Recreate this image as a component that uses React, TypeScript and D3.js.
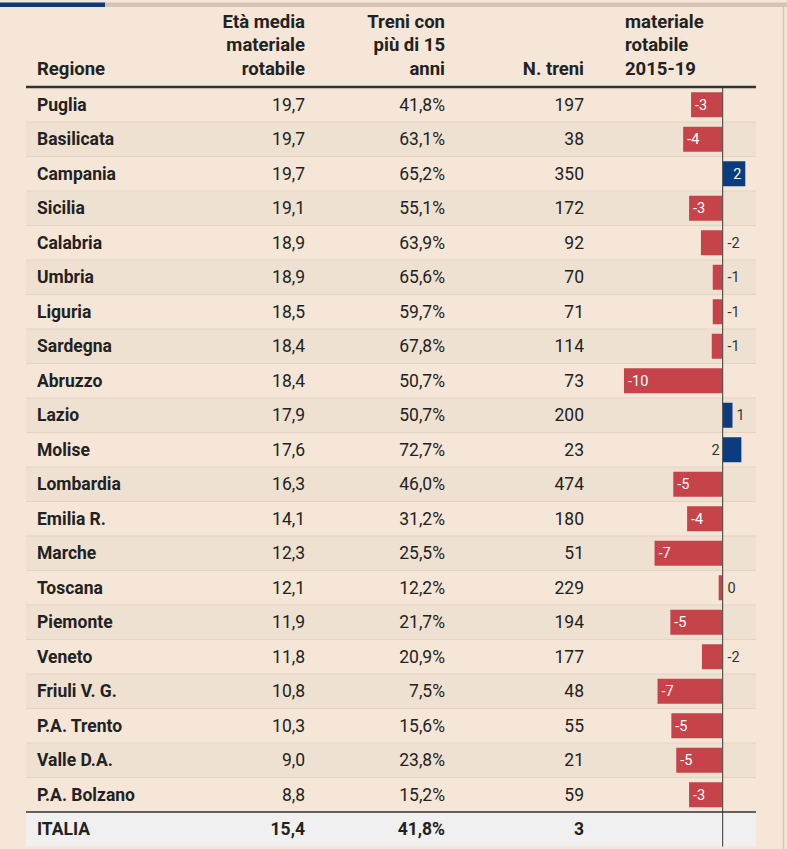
import React from "react";
import * as d3 from "d3";

const regions = ["Puglia","Basilicata","Campania","Sicilia","Calabria","Umbria","Liguria","Sardegna","Abruzzo","Lazio","Molise","Lombardia","Emilia R.","Marche","Toscana","Piemonte","Veneto","Friuli V. G.","P.A. Trento","Valle D.A.","P.A. Bolzano"];
const etaMedia = ["19,7","19,7","19,7","19,1","18,9","18,9","18,5","18,4","18,4","17,9","17,6","16,3","14,1","12,3","12,1","11,9","11,8","10,8","10,3","9,0","8,8"];
const treniOltre15 = ["41,8%","63,1%","65,2%","55,1%","63,9%","65,6%","59,7%","67,8%","50,7%","50,7%","72,7%","46,0%","31,2%","25,5%","12,2%","21,7%","20,9%","7,5%","15,6%","23,8%","15,2%"];
const nTreni = [197,38,350,172,92,70,71,114,73,200,23,474,180,51,229,194,177,48,55,21,59];
const variazione = [-3.2,-4.0,2.3,-3.4,-2.2,-1.0,-1.0,-1.1,-10,1.0,1.9,-5.0,-3.6,-6.9,-0.4,-5.3,-2.1,-6.6,-5.2,-4.7,-3.4];
const totale = { regione: "ITALIA", eta: "15,4", treni: "41,8%", n: 3 };
const headers = [
  ["Regione"],
  ["Età media", "materiale", "rotabile"],
  ["Treni con", "più di 15", "anni"],
  ["N. treni"],
  ["materiale", "rotabile", "2015-19"],
];
const labelLeftOfZero = ["Molise"];

const W = 787, H = 849;
const BG = "#f5e6d7";
const ALT = "#efe1d2";
const TXT = "#222";
const RED = "#c6434a";
const BLUE = "#0b3c7e";
const FONT = "Roboto, 'Noto Sans', sans-serif";
const HEAD_FS = 18.5;
const BODY_FS = 17.5;
const BAR_FS = 14.5;

export default function App() {
  const tableL = 26, tableR = 756;
  const top = 87.5, rowH = 34.5;
  const colRegione = 37, colEta = 305, colTreni = 445, colN = 584, colMat = 625;
  const x = d3.scaleLinear().domain([-10, 3]).range([624, 752.2]);
  const x0 = x(0);
  const y = (i: number) => top + i * rowH;
  const n = regions.length;
  const totTop = y(n);
  const totBot = totTop + rowH;
  const barH = 25;
  const headLines = (lines: string[]) => {
    const base = 74.5;
    const lh = 23.5;
    return lines.map((l, k) => ({ text: l, y: base - (lines.length - 1 - k) * lh }));
  };
  const headCols = [
    { x: colRegione, anchor: "start" },
    { x: colEta, anchor: "end" },
    { x: colTreni, anchor: "end" },
    { x: colN, anchor: "end" },
    { x: colMat, anchor: "start" },
  ];
  const fmt = (v: number) => String(Math.round(v) || 0);

  return (
    <svg width={W} height={H} style={{ position: "absolute", left: 0, top: 0, fontFamily: FONT }}>
      <rect x={0} y={0} width={W} height={H} fill={BG} />
      <rect x={105} y={2.5} width={W - 105} height={4.5} fill="#d5c4b3" />
      <rect x={0} y={2.5} width={105} height={4.5} fill={BLUE} />
      <line x1={783.5} x2={783.5} y1={7} y2={H} stroke="#d8c7b6" strokeWidth={1.5} />

      {headers.map((lines, c) => (
        <g key={"h" + c}>
          {headLines(lines).map((l, k) => (
            <text key={k} x={headCols[c].x} y={l.y} textAnchor={headCols[c].anchor as any} fontSize={HEAD_FS} fontWeight={700} fill={TXT}>{l.text}</text>
          ))}
        </g>
      ))}

      {regions.map((r, i) => (
        <g key={r}>
          {i % 2 === 1 && <rect x={tableL} y={y(i)} width={tableR - tableL} height={rowH} fill={ALT} />}
          {i > 0 && <line x1={tableL} x2={tableR} y1={y(i)} y2={y(i)} stroke="#e4d4c4" strokeWidth={1} />}
        </g>
      ))}
      <rect x={tableL} y={totTop} width={tableR - tableL} height={rowH} fill="#f0f0f0" />

      {regions.map((r, i) => {
        const cy = y(i) + rowH / 2;
        const base = cy + 6;
        const v = variazione[i];
        const bx = Math.min(x(v), x0);
        const bw = Math.abs(x(v) - x0);
        const ly = cy + 5;
        let label: React.ReactNode;
        if (v < 0) {
          if (bw >= 28) label = <text x={bx + 4} y={ly} fontSize={BAR_FS} fill="#fff">{fmt(v)}</text>;
          else label = <text x={x0 + 5} y={ly} fontSize={BAR_FS} fill="#333">{fmt(v)}</text>;
        } else {
          if (labelLeftOfZero.includes(r)) label = <text x={x0 - 3} y={ly} fontSize={BAR_FS} fill="#333" textAnchor="end">{fmt(v)}</text>;
          else if (bw >= 20) label = <text x={x(v) - 4} y={ly} fontSize={BAR_FS} fill="#fff" textAnchor="end">{fmt(v)}</text>;
          else label = <text x={x(v) + 4} y={ly} fontSize={BAR_FS} fill="#333">{fmt(v)}</text>;
        }
        return (
          <g key={"r" + r}>
            <text x={colRegione} y={base} fontSize={BODY_FS} fontWeight={700} fill={TXT}>{r}</text>
            <text x={colEta} y={base} fontSize={BODY_FS} textAnchor="end" fill={TXT}>{etaMedia[i]}</text>
            <text x={colTreni} y={base} fontSize={BODY_FS} textAnchor="end" fill={TXT}>{treniOltre15[i]}</text>
            <text x={colN} y={base} fontSize={BODY_FS} textAnchor="end" fill={TXT}>{nTreni[i]}</text>
            <rect x={bx} y={cy - barH / 2} width={bw} height={barH} fill={v < 0 ? RED : BLUE} />
            {label}
          </g>
        );
      })}

      {(() => {
        const base = totTop + rowH / 2 + 6;
        return (
          <g>
            <text x={colRegione} y={base} fontSize={BODY_FS} fontWeight={700} fill={TXT}>{totale.regione}</text>
            <text x={colEta} y={base} fontSize={BODY_FS} fontWeight={700} textAnchor="end" fill={TXT}>{totale.eta}</text>
            <text x={colTreni} y={base} fontSize={BODY_FS} fontWeight={700} textAnchor="end" fill={TXT}>{totale.treni}</text>
            <text x={colN} y={base} fontSize={BODY_FS} fontWeight={700} textAnchor="end" fill={TXT}>{totale.n}</text>
          </g>
        );
      })()}

      <line x1={x0} x2={x0} y1={top} y2={totBot} stroke="#555" strokeWidth={1.2} />
      <line x1={tableL} x2={tableR} y1={totTop} y2={totTop} stroke="#333" strokeWidth={1.5} />
      <line x1={tableL} x2={tableR} y1={87} y2={87} stroke="#333" strokeWidth={2.5} />
    </svg>
  );
}
